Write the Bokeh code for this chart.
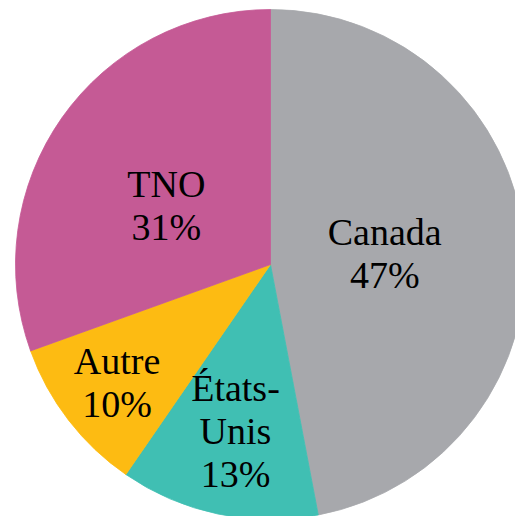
import numpy as np
from bokeh.plotting import figure
from bokeh.models import ColumnDataSource, Range1d
from bokeh.core.properties import value
from bokeh.embed import file_html
from bokeh.resources import INLINE

# ---- data ----
categories = ["Canada", "États-Unis", "Autre", "TNO"]
shares = [47.0, 12.6, 9.9, 30.5]
pct_labels = ["47%", "13%", "10%", "31%"]
name_labels = ["Canada", "États-\nUnis", "Autre", "TNO"]
colors = ["#A7A8AC", "#40BFB3", "#FDBB12", "#C55A95"]

# ---- layout config ----
label_radius = [0.45, 0.667, 0.76, 0.47]   # fraction of pie radius
label_angle_shift = [0.0, 0.0, 0.0, 5.5]   # degrees
W, H = 515, 516
R_PX = 255.0
CX_PX, CY_PX = 270.0, 264.0  # pie centre in pixels from top-left of figure

vals = np.array(shares, dtype=float)
frac = vals / vals.sum()
cum = np.concatenate([[0.0], np.cumsum(frac)])
start = np.pi / 2 - 2 * np.pi * cum[:-1]
end = np.pi / 2 - 2 * np.pi * cum[1:]
mid = (start + end) / 2 + np.radians(label_angle_shift)
lx = np.array(label_radius) * np.cos(mid)
ly = np.array(label_radius) * np.sin(mid)
texts = [f"{n}\n{p}" for n, p in zip(name_labels, pct_labels)]

src = ColumnDataSource(dict(cat=categories, start=start, end=end, color=colors,
                            lx=lx, ly=ly, text=texts))

p = figure(width=W, height=H, output_backend="svg", toolbar_location=None,
           x_range=Range1d(-CX_PX / R_PX, (W - CX_PX) / R_PX),
           y_range=Range1d(-(H - CY_PX) / R_PX, CY_PX / R_PX),
           min_border=0, x_axis_location=None, y_axis_location=None)
p.grid.visible = False
p.outline_line_color = None
p.background_fill_color = "white"
p.border_fill_color = "white"

p.wedge(x=0, y=0, radius=1, start_angle="start", end_angle="end",
        direction="clock", fill_color="color", line_color="color",
        line_width=0.8, source=src)

p.text(x="lx", y="ly", text="text", source=src, text_align="center",
       text_baseline="middle", text_font=value("Liberation Serif"),
       text_font_size="38px", text_color="#000000", text_line_height=1.03)

open("out.html", "w").write(file_html(p, INLINE))
